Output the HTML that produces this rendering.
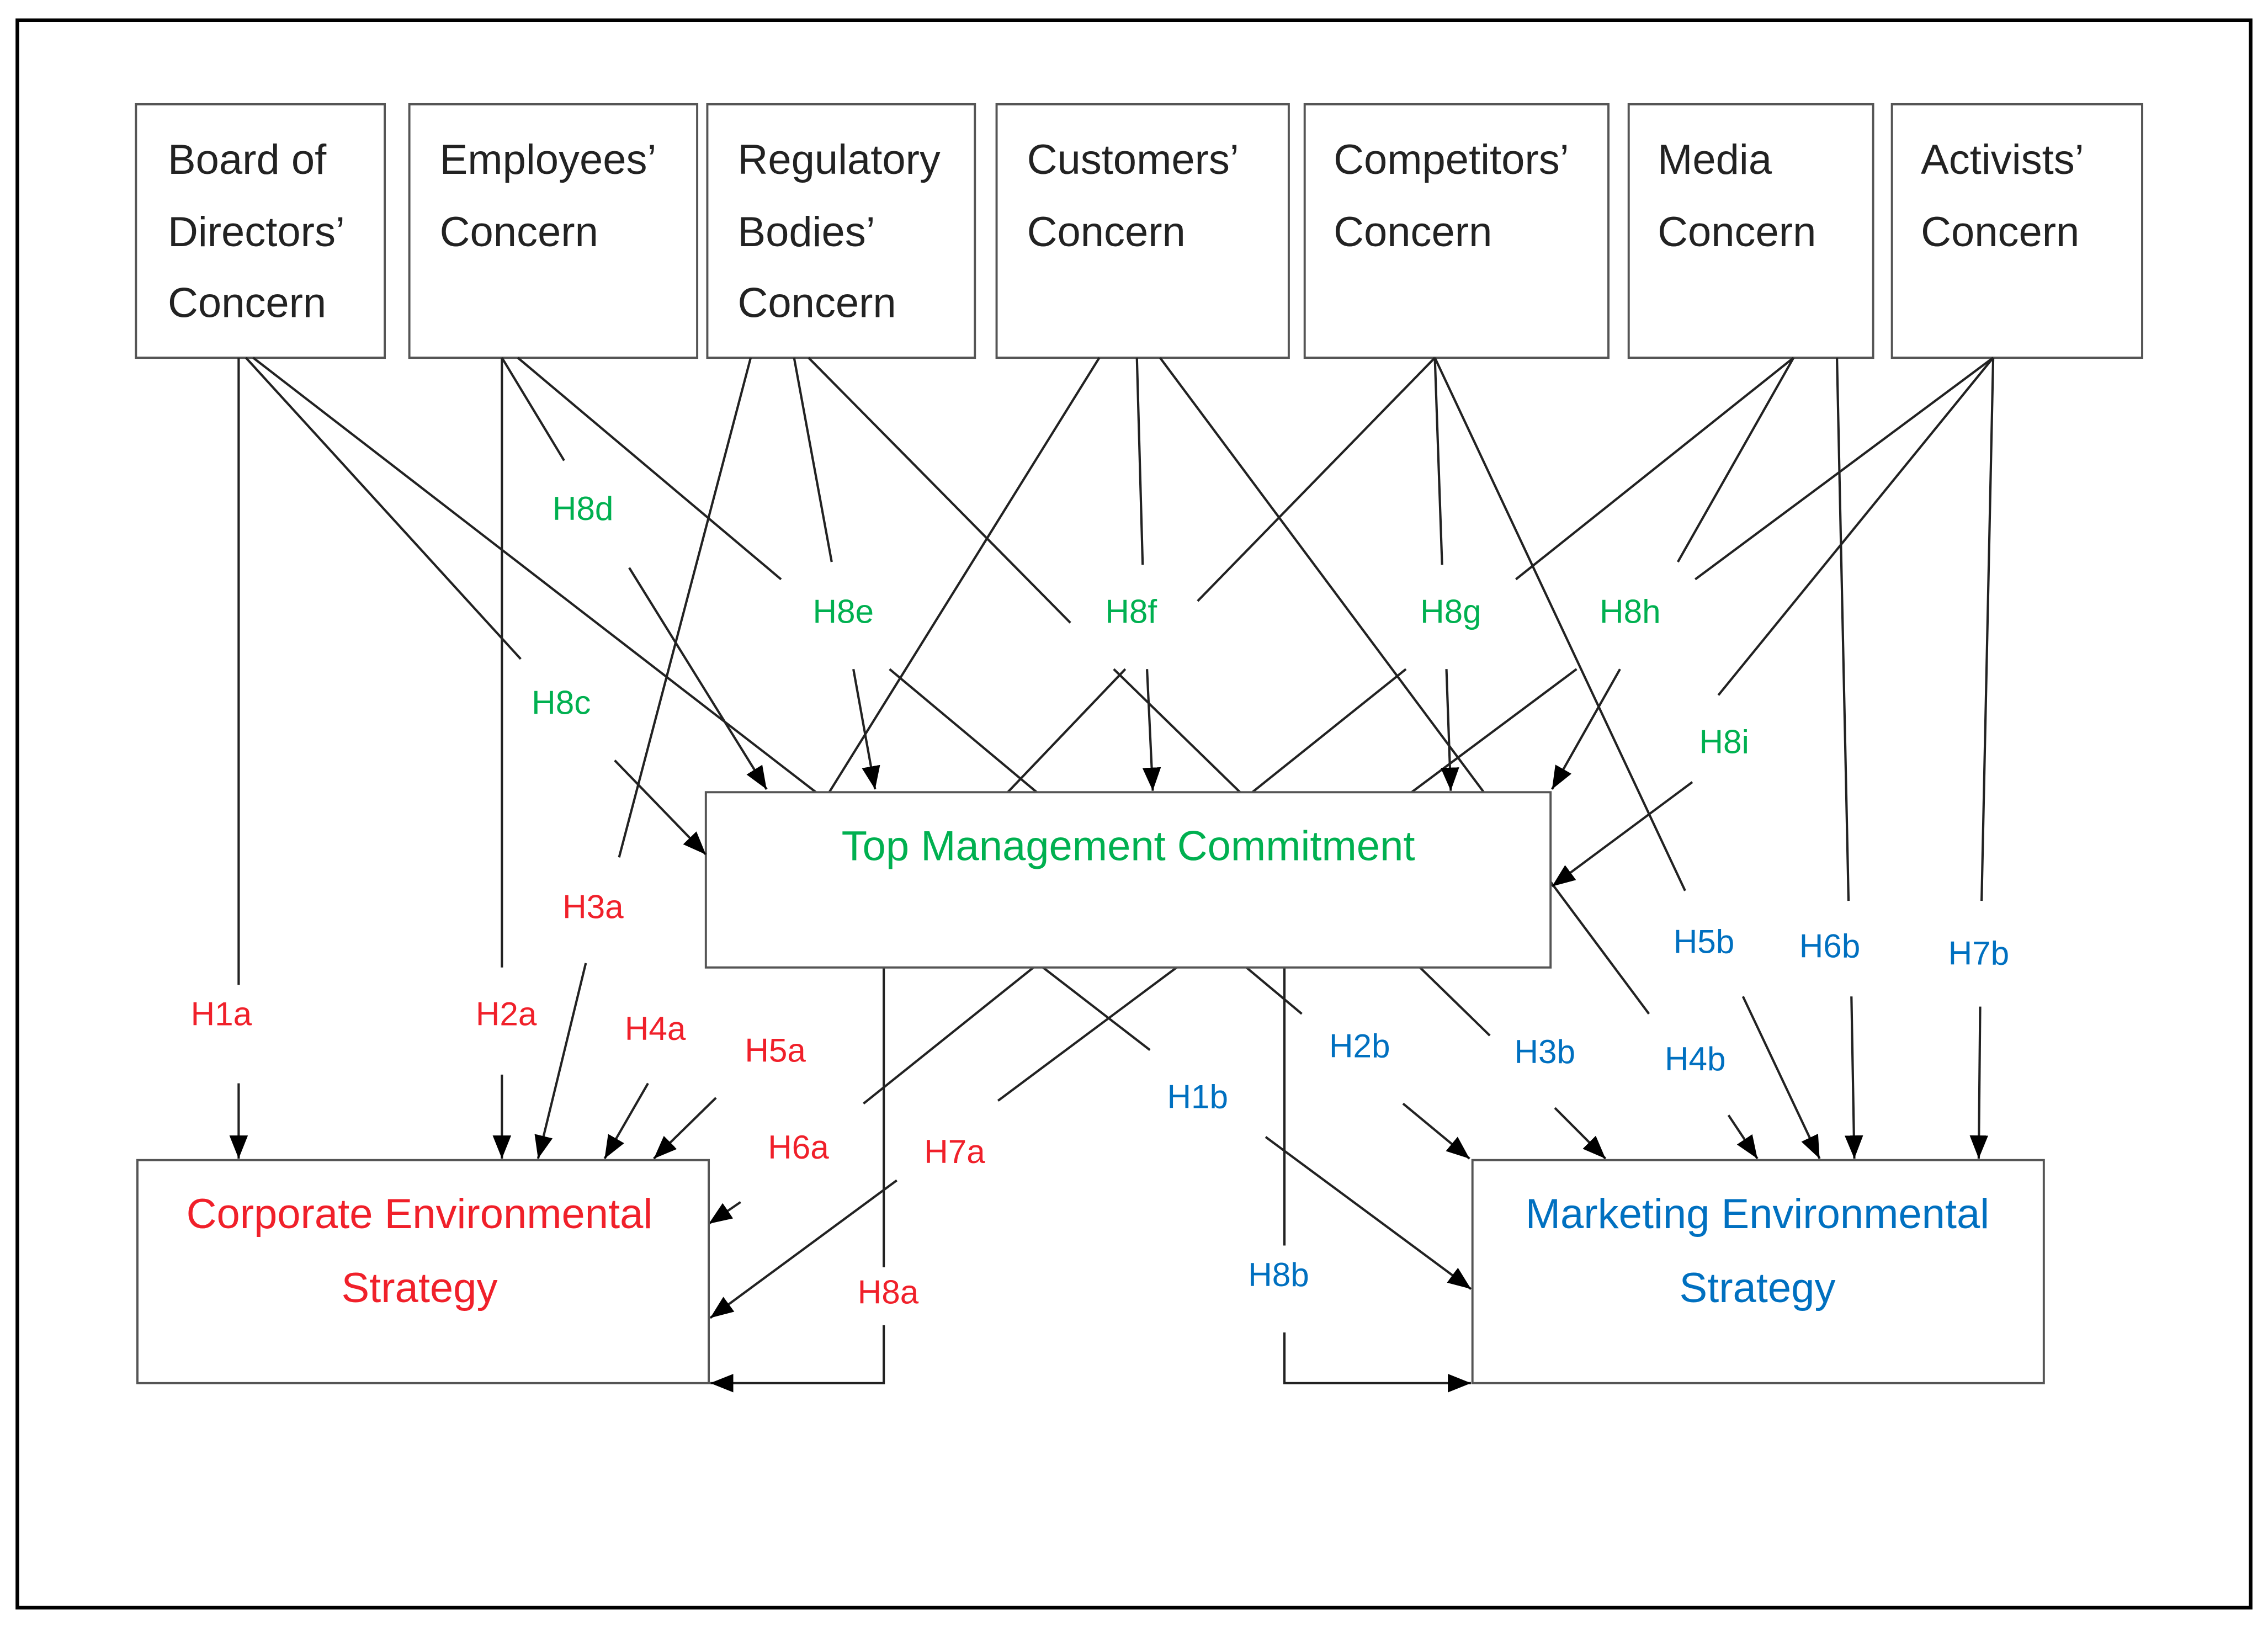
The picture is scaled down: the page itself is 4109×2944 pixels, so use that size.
<!DOCTYPE html>
<html><head><meta charset="utf-8"><style>
html,body{margin:0;padding:0;background:#fff}
svg{display:block}
text{font-family:"Liberation Sans",sans-serif}
</style></head><body>
<svg width="4109" height="2944" viewBox="0 0 1568 1122" preserveAspectRatio="none" xmlns="http://www.w3.org/2000/svg">
<defs><marker id="a" viewBox="0 0 10 10" refX="10" refY="5" markerWidth="7" markerHeight="7" orient="auto" markerUnits="userSpaceOnUse"><path d="M0,0 L10,5 L0,10 z" fill="#000"/></marker>
<marker id="b" viewBox="0 0 10 10" refX="10" refY="5" markerWidth="16" markerHeight="16" orient="auto" markerUnits="userSpaceOnUse"><path d="M0,1 L10,5 L0,9 z" fill="#000"/></marker></defs>
<rect x="12" y="14" width="1544" height="1096" fill="none" stroke="#000" stroke-width="2.5"/>
<g fill="#fff" stroke="#555" stroke-width="1.5">
<rect x="94" y="72" width="172" height="175"/>
<rect x="283" y="72" width="199" height="175"/>
<rect x="489" y="72" width="185" height="175"/>
<rect x="689" y="72" width="202" height="175"/>
<rect x="902" y="72" width="210" height="175"/>
<rect x="1126" y="72" width="169" height="175"/>
<rect x="1308" y="72" width="173" height="175"/>
</g>
<g font-size="29" fill="#222">
<text x="116" y="120">Board of</text><text x="116" y="170">Directors’</text><text x="116" y="219">Concern</text>
<text x="304" y="120">Employees’</text><text x="304" y="170">Concern</text>
<text x="510" y="120">Regulatory</text><text x="510" y="170">Bodies’</text><text x="510" y="219">Concern</text>
<text x="710" y="120">Customers’</text><text x="710" y="170">Concern</text>
<text x="922" y="120">Competitors’</text><text x="922" y="170">Concern</text>
<text x="1146" y="120">Media</text><text x="1146" y="170">Concern</text>
<text x="1328" y="120">Activists’</text><text x="1328" y="170">Concern</text>
</g>
<g stroke="#222" stroke-width="1.6" fill="none">
<!-- plain segments -->
<line x1="165" y1="247" x2="165" y2="680"/>
<line x1="170" y1="247" x2="360" y2="455"/>
<line x1="175" y1="247" x2="795" y2="725"/>
<line x1="347" y1="247" x2="347" y2="668"/>
<line x1="347" y1="247" x2="390" y2="318"/>
<line x1="358" y1="247" x2="540" y2="400"/>
<line x1="615" y1="462" x2="900" y2="700"/>
<line x1="519" y1="247" x2="428" y2="592"/>
<line x1="549" y1="247" x2="575" y2="388"/>
<line x1="559" y1="247" x2="740" y2="430"/>
<line x1="770" y1="462" x2="1030" y2="715"/>
<line x1="760" y1="247" x2="498" y2="668"/>
<line x1="786" y1="247" x2="790" y2="390"/>
<line x1="802" y1="247" x2="1140" y2="700"/>
<line x1="992" y1="247" x2="828" y2="415"/>
<line x1="778" y1="462" x2="581" y2="668"/>
<line x1="992" y1="247" x2="997" y2="390"/>
<line x1="992" y1="247" x2="1165" y2="615"/>
<line x1="1240" y1="247" x2="1048" y2="400"/>
<line x1="972" y1="462" x2="597" y2="762"/>
<line x1="1240" y1="247" x2="1160" y2="388"/>
<line x1="1270" y1="247" x2="1278" y2="622"/>
<line x1="1378" y1="247" x2="1172" y2="400"/>
<line x1="1090" y1="462" x2="690" y2="760"/>
<line x1="1378" y1="247" x2="1188" y2="480"/>
<line x1="1378" y1="247" x2="1370" y2="622"/>
<line x1="611" y1="668" x2="611" y2="875"/>
<line x1="888" y1="668" x2="888" y2="860"/>
</g>
<!-- TMC box -->
<rect x="488" y="547" width="584" height="121" fill="#fff" stroke="#555" stroke-width="1.5"/>
<text x="780" y="594" font-size="29" fill="#00b050" text-anchor="middle">Top Management Commitment</text>
<g stroke="#222" stroke-width="1.6" fill="none" marker-end="url(#b)">
<line x1="165" y1="748" x2="165" y2="800"/>
<line x1="425" y1="525" x2="488" y2="590"/>
<line x1="875" y1="785" x2="1017" y2="890"/>
<line x1="347" y1="742" x2="347" y2="800"/>
<line x1="435" y1="392" x2="530" y2="545"/>
<line x1="970" y1="762" x2="1016" y2="800"/>
<line x1="405" y1="665" x2="372" y2="800"/>
<line x1="590" y1="462" x2="605" y2="545"/>
<line x1="1075" y1="765" x2="1110" y2="800"/>
<line x1="448" y1="748" x2="418" y2="800"/>
<line x1="793" y1="462" x2="797" y2="546"/>
<line x1="1195" y1="770" x2="1215" y2="800"/>
<line x1="495" y1="758" x2="452" y2="800"/>
<line x1="1000" y1="462" x2="1003" y2="546"/>
<line x1="1205" y1="688" x2="1258" y2="800"/>
<line x1="512" y1="830" x2="490" y2="845"/>
<line x1="1120" y1="462" x2="1073" y2="545"/>
<line x1="1280" y1="688" x2="1282" y2="800"/>
<line x1="620" y1="815" x2="491" y2="910"/>
<line x1="1170" y1="540" x2="1073" y2="612"/>
<line x1="1369" y1="695" x2="1368" y2="800"/>
<polyline points="611,915 611,955 491,955"/>
<polyline points="888,920 888,955 1017,955"/>
</g>
<rect x="95" y="801" width="395" height="154" fill="none" stroke="#555" stroke-width="1.5"/>
<rect x="1018" y="801" width="395" height="154" fill="none" stroke="#555" stroke-width="1.5"/>
<g font-size="29" text-anchor="middle">
<text x="290" y="848" fill="#f0202a">Corporate Environmental</text>
<text x="290" y="899" fill="#f0202a">Strategy</text>
<text x="1215" y="848" fill="#0070c0">Marketing Environmental</text>
<text x="1215" y="899" fill="#0070c0">Strategy</text>
</g>
<g font-size="23" text-anchor="middle">
<g fill="#f0202a">
<text x="153" y="708">H1a</text><text x="350" y="708">H2a</text><text x="410" y="634">H3a</text>
<text x="453" y="718">H4a</text><text x="536" y="733">H5a</text><text x="552" y="800">H6a</text>
<text x="660" y="803">H7a</text><text x="614" y="900">H8a</text>
</g>
<g fill="#00b050">
<text x="403" y="359">H8d</text><text x="583" y="430">H8e</text><text x="782" y="430">H8f</text>
<text x="1003" y="430">H8g</text><text x="1127" y="430">H8h</text><text x="388" y="493">H8c</text>
<text x="1192" y="520">H8i</text>
</g>
<g fill="#0070c0">
<text x="828" y="765">H1b</text><text x="940" y="730">H2b</text><text x="1068" y="734">H3b</text>
<text x="1172" y="739">H4b</text><text x="1178" y="658">H5b</text><text x="1265" y="661">H6b</text>
<text x="1368" y="666">H7b</text><text x="884" y="888">H8b</text>
</g>
</g>
</svg>
</body></html>
